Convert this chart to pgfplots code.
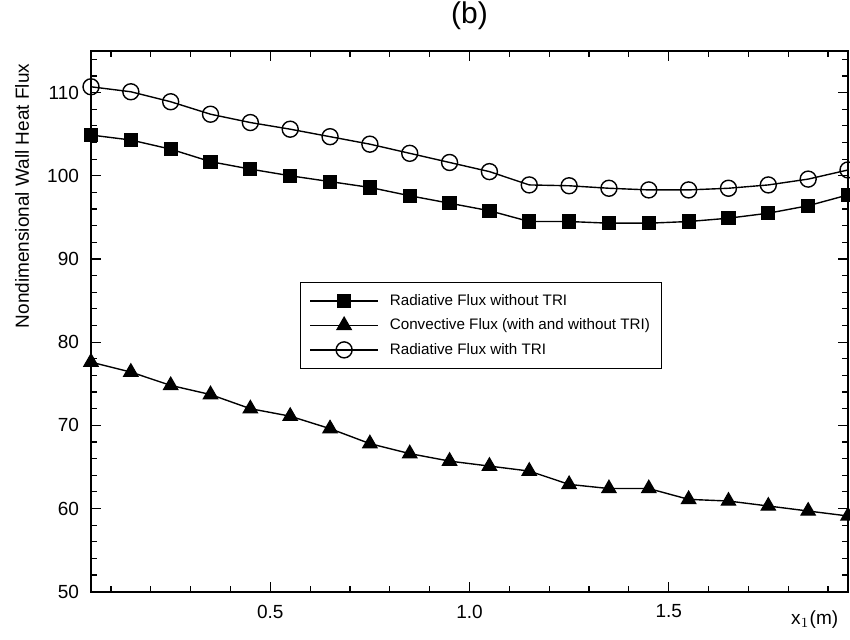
\documentclass[border=0pt]{standalone}
\usepackage{fontspec}
\setmainfont{Liberation Sans}
\usepackage{pgfplots}
\pgfplotsset{compat=1.18}

% wall heat flux along x1, three series
\pgfplotstableread{
x    y
0.05 104.9
0.15 104.3
0.25 103.2
0.35 101.7
0.45 100.8
0.55 100.0
0.65 99.3
0.75 98.6
0.85 97.6
0.95 96.7
1.05 95.8
1.15 94.5
1.25 94.5
1.35 94.3
1.45 94.3
1.55 94.5
1.65 94.9
1.75 95.5
1.85 96.4
1.95 97.7
}\radnotri

\pgfplotstableread{
x    y
0.05 77.6
0.15 76.4
0.25 74.8
0.35 73.7
0.45 72.0
0.55 71.1
0.65 69.6
0.75 67.8
0.85 66.6
0.95 65.7
1.05 65.1
1.15 64.5
1.25 62.9
1.35 62.4
1.45 62.4
1.55 61.1
1.65 60.9
1.75 60.3
1.85 59.7
1.95 59.1
}\conv

\pgfplotstableread{
x    y
0.05 110.7
0.15 110.1
0.25 108.9
0.35 107.4
0.45 106.4
0.55 105.6
0.65 104.7
0.75 103.8
0.85 102.7
0.95 101.6
1.05 100.5
1.15 98.9
1.25 98.8
1.35 98.5
1.45 98.3
1.55 98.3
1.65 98.5
1.75 98.9
1.85 99.6
1.95 100.7
}\radtri

\begin{document}
\begin{tikzpicture}
\useasboundingbox (-45.5pt,-24.15pt) rectangle (379.5pt,295.85pt);
\begin{axis}[
  at={(0pt,0pt)}, anchor=south west,
  scale only axis,
  width=378.5pt, height=270.35pt,
  xmin=0.05, xmax=1.95, ymin=50, ymax=115,
  xtick={0.5,1.0,1.5},
  minor xtick={0.1,0.2,...,1.9},
  ytick={50,60,...,110},
  minor ytick={52,54,...,114},
  major tick length=5pt,
  minor tick length=2.8pt,
  tick style={black, line width=0.6pt},
  axis line style={line width=1.1pt},
  ticklabel style={font=\fontsize{9.5}{11}\selectfont},
  /pgf/number format/assume math mode=true,
  xticklabel style={/pgf/number format/.cd, fixed, fixed zerofill, precision=1, /tikz/.cd, yshift=-3pt},
  yticklabel style={xshift=-2.5pt},
  title={(b)},
  title style={font=\fontsize{15}{18}\selectfont, at={(0.5,1)}, anchor=center, yshift=11.5pt},
  ylabel={Nondimensional Wall Heat Flux},
  ylabel style={font=\fontsize{9.5}{11}\selectfont, at={(axis description cs:-0.0911,0.732)}, anchor=center},
  xlabel={x$_1$(m)},
  xlabel style={font=\fontsize{9.5}{11}\selectfont, at={(axis description cs:0.956,-0.052)}, anchor=center},
  clip=false,
  every axis plot/.append style={black, line width=0.7pt},
  legend image code/.code={
    \draw[mark repeat=2, mark phase=2, #1] plot coordinates {(0pt,0pt) (17pt,0pt) (34pt,0pt)};
    \path (38.5pt,0pt);
  },
  legend cell align=left,
  legend style={
    at={(0.276,0.573)}, anchor=north west,
    draw=black, line width=0.5pt,
    font=\fontsize{7.6}{8}\selectfont,
    inner xsep=4.5pt, inner ysep=4.5pt,
    row sep=2.75pt,
    nodes={inner sep=1pt, text height=6pt, text depth=1.5pt},
  },
]
\addplot[mark=square*, mark size=3.2pt] table[x=x, y=y] {\radnotri};
\addlegendentry{Radiative Flux without TRI}
\addplot[mark=triangle*, mark size=4pt] table[x=x, y=y] {\conv};
\addlegendentry{Convective Flux (with and without TRI)}
\addplot[mark=o, mark size=4pt, mark options={fill=white}] table[x=x, y=y] {\radtri};
\addlegendentry{Radiative Flux with TRI}
\end{axis}
\end{tikzpicture}
\end{document}
